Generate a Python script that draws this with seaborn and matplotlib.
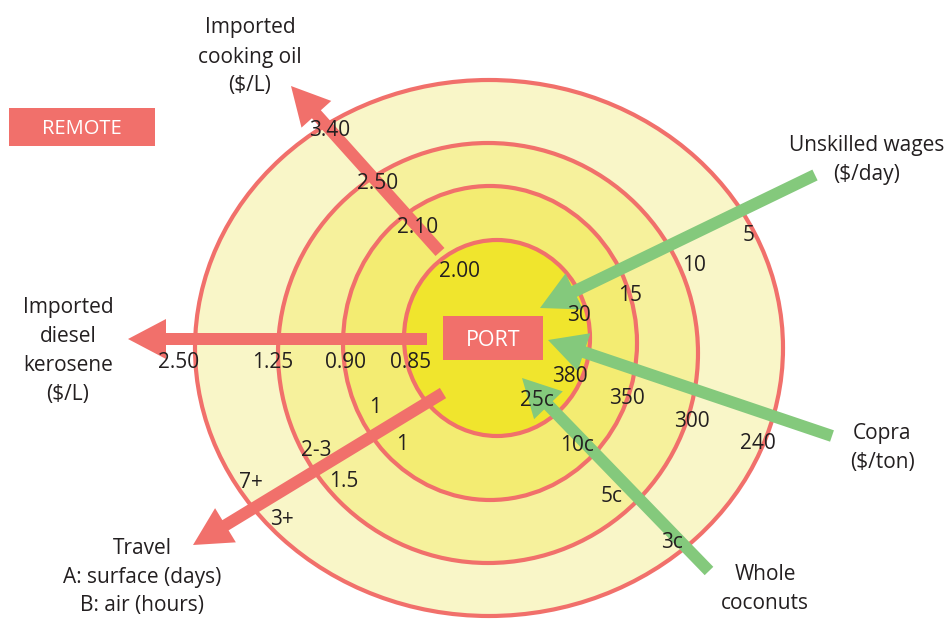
"""
Concentric zones from the port to remote areas, with price gradients
for imported goods (red, outward) and local produce (green, inward).
"""
import matplotlib
matplotlib.use('Agg')
import matplotlib.pyplot as plt
import matplotlib.patches as mpatches
import seaborn as sns

# ring geometry (pixel space): outer -> inner
ring_cx = [489, 488, 490, 497]
ring_cy = [348, 353, 343, 338]
ring_rx = [294, 210, 147, 93]
ring_ry = [268, 210, 157, 98]
ring_fill = ['#f9f6c8', '#f6f19c', '#f3ec72', '#f0e52d']

# arrows: (tail x, tail y, tip x, tip y)
oil_arrow = (440, 252, 291, 86)
diesel_arrow = (427, 339, 128, 339)
travel_arrow = (443, 393, 193, 545)
wage_arrow = (815, 175, 540, 308)
copra_arrow = (832, 436, 548, 340)
coconut_arrow = (709, 571, 522, 378)

# value labels along each arrow
oil_values = ['3.40', '2.50', '2.10', '2.00']
oil_xy = [(330, 128), (378, 181), (418, 225), (459, 269)]
diesel_values = ['2.50', '1.25', '0.90', '0.85']
diesel_xy = [(179, 360), (273, 360), (345, 360), (411, 360)]
travel_values = ['7+', '2-3', '1', '3+', '1.5', '1']
travel_xy = [(251, 480), (316, 448), (375, 405), (282, 517), (344, 479), (402, 442)]
wage_values = ['5', '10', '15', '30']
wage_xy = [(749, 233), (694, 263), (630, 293), (579, 313)]
copra_values = ['240', '300', '350', '380']
copra_xy = [(758, 441), (692, 419), (627, 396), (570, 374)]
coconut_values = ['3c', '5c', '10c', '25c']
coconut_xy = [(672, 540), (612, 494), (577, 443), (537, 398)]

# axis titles
titles = ['Imported\ncooking oil\n($/L)',
          'Imported\ndiesel\nkerosene\n($/L)',
          'Travel\nA: surface (days)\nB: air (hours)',
          'Unskilled wages\n($/day)',
          'Copra\n($/ton)',
          'Whole\ncoconuts']
titles_xy = [(250, 57), (68, 351), (142, 577), (867, 160), (882, 448), (765, 589)]

RED = '#f1706b'
GREEN = '#84c97c'
TEXT = '#231f20'


def draw_arrow(ax, spec, color):
    x0, y0, x1, y1 = spec
    ax.add_patch(mpatches.FancyArrow(x0, y0, x1 - x0, y1 - y0, width=12,
                                     head_width=40, head_length=38,
                                     length_includes_head=True,
                                     color=color, lw=0, zorder=3))


def main():
    sns.set_style('white')
    plt.rcParams['font.family'] = ['Open Sans', 'DejaVu Sans']

    fig = plt.figure(figsize=(9.46, 6.2), dpi=100)
    ax = fig.add_axes([0, 0, 1, 1])
    ax.set_xlim(0, 946)
    ax.set_ylim(620, 0)
    ax.axis('off')

    for cx, cy, rx, ry, fc in zip(ring_cx, ring_cy, ring_rx, ring_ry, ring_fill):
        ax.add_patch(mpatches.Ellipse((cx, cy), 2 * rx, 2 * ry, facecolor=fc,
                                      edgecolor=RED, lw=3, zorder=1))

    for spec in [oil_arrow, diesel_arrow, travel_arrow]:
        draw_arrow(ax, spec, RED)
    for spec in [wage_arrow, copra_arrow, coconut_arrow]:
        draw_arrow(ax, spec, GREEN)

    ax.add_patch(mpatches.Rectangle((9, 108), 146, 38, color=RED, lw=0, zorder=4))
    ax.text(82, 127, 'REMOTE', color='white', fontsize=14.5,
            ha='center', va='center_baseline', zorder=5)
    ax.add_patch(mpatches.Rectangle((443, 316), 100, 44, color=RED, lw=0, zorder=4))
    ax.text(493, 338, 'PORT', color='white', fontsize=15.5,
            ha='center', va='center_baseline', zorder=5)

    groups = [(oil_values, oil_xy), (diesel_values, diesel_xy),
              (travel_values, travel_xy), (wage_values, wage_xy),
              (copra_values, copra_xy), (coconut_values, coconut_xy)]
    for values, xy in groups:
        for v, (x, y) in zip(values, xy):
            ax.text(x, y, v, color=TEXT, fontsize=15, ha='center',
                    va='center_baseline', zorder=6)

    for t, (x, y) in zip(titles, titles_xy):
        ax.text(x, y, t, color=TEXT, fontsize=15, ha='center', va='center',
                linespacing=1.5, zorder=6)

    fig.savefig('out.png', dpi=100)


if __name__ == '__main__':
    main()
